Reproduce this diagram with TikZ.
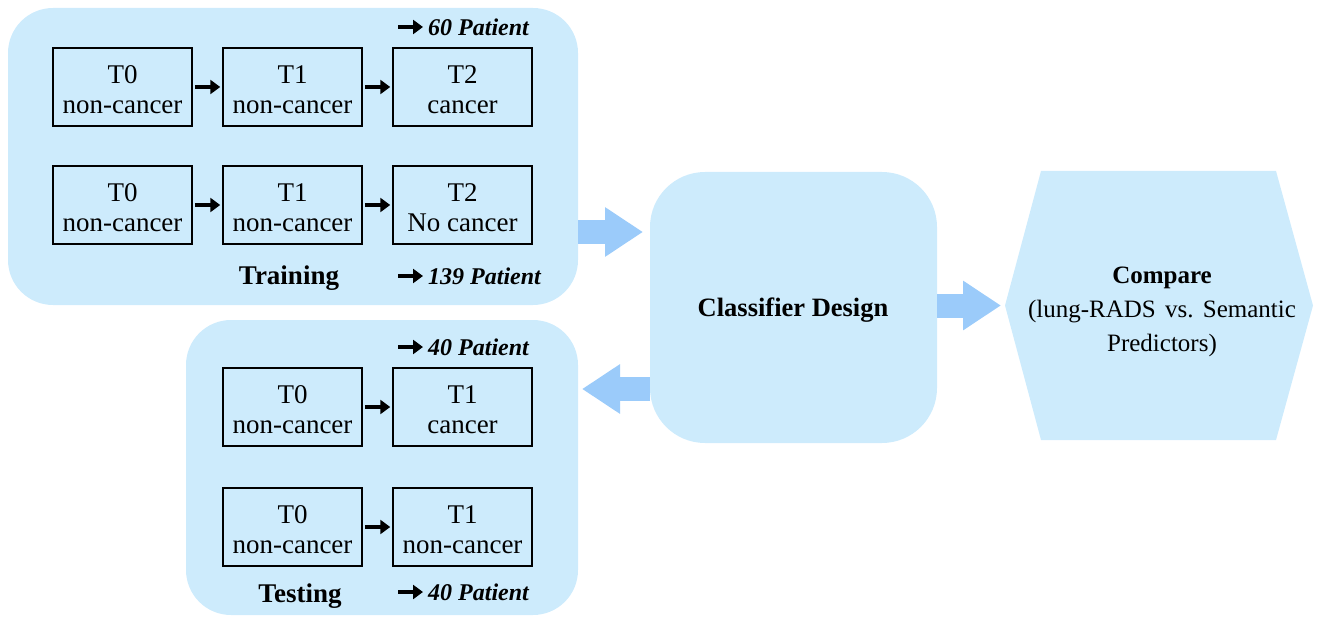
\documentclass[tikz,border=0pt]{standalone}
\usepackage{fontspec}
\setmainfont{Liberation Serif}
\usetikzlibrary{arrows.meta,calc}
\definecolor{panel}{RGB}{205,235,252}
\definecolor{barrow}{RGB}{155,203,250}
\tikzset{
  panelbox/.style={fill=panel, draw=none, rounded corners=45pt},
  stagelabel/.style={align=center, font=\fontsize{27}{30}\selectfont, inner sep=0pt, yshift=-3pt},
  stagebox/.style={draw=black, line width=1.5pt, minimum width=139pt, minimum height=78pt, inner sep=0pt, label={[stagelabel]center:#1}},
  smallarrow/.style={line width=3.5pt, -{Triangle[length=10pt,width=14pt]}, shorten <=2pt, shorten >=2pt},
  patarrow/.style={line width=3.5pt, -{Triangle[length=10pt,width=14pt]}, shorten >=5pt},
  patient/.style={anchor=west, font=\fontsize{24}{28}\selectfont\bfseries\itshape, inner sep=0pt},
  title/.style={font=\fontsize{27}{30}\selectfont\bfseries, inner sep=0pt},
  blockarrow/.style={draw=barrow, line width=24pt, -{Triangle[length=38pt,width=47pt]}},
}
\begin{document}
\begin{tikzpicture}[x=1pt,y=-1pt]
\useasboundingbox (0,0) rectangle (1319,620);
% panels
\node[panelbox, minimum width=570pt, minimum height=297pt] (train) at (293,156.5) {};
\node[panelbox, minimum width=392pt, minimum height=295pt] (test) at (382,467.5) {};
\node[panelbox, rounded corners=55pt, minimum width=287pt, minimum height=271pt] (cls) at (793.5,307.5) {};
\fill[panel] (1041,171) -- (1276,171) -- (1313,305.5) -- (1276,440) -- (1041,440) -- (1005,305.5) -- cycle;
\coordinate (cmpw) at (1005,305.5);
% training stages
\node[stagebox={T0\\non-cancer}] (a0) at (122.5,87) {};
\node[stagebox={T1\\non-cancer}] (a1) at (292.5,87) {};
\node[stagebox={T2\\cancer}] (a2) at (462.5,87) {};
\node[stagebox={T0\\non-cancer}] (b0) at (122.5,205) {};
\node[stagebox={T1\\non-cancer}] (b1) at (292.5,205) {};
\node[stagebox={T2\\No cancer}] (b2) at (462.5,205) {};
\draw[smallarrow] (a0) -- (a1);
\draw[smallarrow] (a1) -- (a2);
\draw[smallarrow] (b0) -- (b1);
\draw[smallarrow] (b1) -- (b2);
% testing stages
\node[stagebox={T0\\non-cancer}] (c0) at (292.5,407) {};
\node[stagebox={T1\\cancer}] (c1) at (462.5,407) {};
\node[stagebox={T0\\non-cancer}] (d0) at (292.5,527) {};
\node[stagebox={T1\\non-cancer}] (d1) at (462.5,527) {};
\draw[smallarrow] (c0) -- (c1);
\draw[smallarrow] (d0) -- (d1);
% patient labels
\node[patient] (p1) at (428,27) {60 Patient};
\coordinate (p1s) at (398,27);
\draw[patarrow] (p1s) -- (p1.west);
\node[patient] (p2) at (428,276) {139 Patient};
\coordinate (p2s) at (398,276);
\draw[patarrow] (p2s) -- (p2.west);
\node[patient] (p3) at (428,347) {40 Patient};
\coordinate (p3s) at (398,347);
\draw[patarrow] (p3s) -- (p3.west);
\node[patient] (p4) at (428,592) {40 Patient};
\coordinate (p4s) at (398,592);
\draw[patarrow] (p4s) -- (p4.west);
% titles
\node[title] (trt) at (289,278) {Training};
\node[title] (tst) at (300,596) {Testing};
\node[title, font=\fontsize{26.5}{30}\selectfont\bfseries] (clst) at (793,310) {Classifier Design};
\node[align=center, inner sep=0pt, font=\fontsize{25}{34}\selectfont] (cmpt) at (1162,312) {\textbf{Compare}\\(lung-RADS\hspace{0.25em plus 0pt}\hspace{3pt}vs.\hspace{0.25em}\hspace{3pt}Semantic\\Predictors)};
% block arrows
\coordinate (ta) at (578,232);
\coordinate (tb) at (643,232);
\draw[blockarrow] (ta) -- (tb);
\coordinate (ca) at (650,389);
\coordinate (cb) at (582,389);
\draw[blockarrow] (ca) -- (cb);
\draw[blockarrow] (cls.east |- cmpw) -- ([xshift=-4pt]cmpw);
\end{tikzpicture}
\end{document}
